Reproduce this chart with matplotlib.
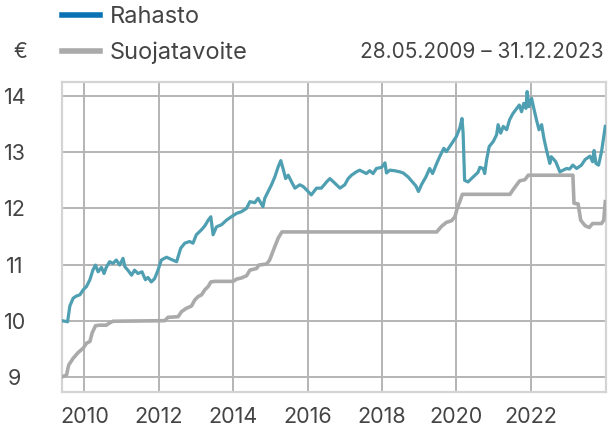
import matplotlib.pyplot as plt
from matplotlib.lines import Line2D

# Rahasto (fund value), decimal years
rahasto_t = [2009.40, 2009.55, 2009.61, 2009.70, 2009.79, 2009.88, 2009.97, 2010.06, 2010.15, 2010.23,
             2010.30, 2010.37, 2010.46, 2010.53, 2010.59, 2010.68, 2010.77, 2010.86, 2010.95, 2011.04,
             2011.09, 2011.17, 2011.27, 2011.35, 2011.44, 2011.55, 2011.64, 2011.71, 2011.80, 2011.89,
             2011.98, 2012.07, 2012.21, 2012.34, 2012.48, 2012.59, 2012.70, 2012.83, 2012.92, 2013.01,
             2013.15, 2013.24, 2013.33, 2013.40, 2013.46, 2013.55, 2013.69, 2013.82, 2013.95, 2014.09,
             2014.22, 2014.36, 2014.45, 2014.58, 2014.67, 2014.80, 2014.85, 2014.94, 2015.03, 2015.12,
             2015.21, 2015.28, 2015.34, 2015.41, 2015.48, 2015.57, 2015.66, 2015.79, 2015.88, 2015.97,
             2016.10, 2016.24, 2016.37, 2016.51, 2016.60, 2016.73, 2016.87, 2017.00, 2017.09, 2017.18,
             2017.31, 2017.40, 2017.49, 2017.58, 2017.67, 2017.76, 2017.85, 2017.99, 2018.08, 2018.12,
             2018.21, 2018.34, 2018.48, 2018.57, 2018.70, 2018.82, 2018.91, 2018.98, 2019.06, 2019.18,
             2019.28, 2019.36, 2019.47, 2019.55, 2019.66, 2019.73, 2019.82, 2019.91, 2020.00, 2020.09,
             2020.15, 2020.18, 2020.22, 2020.31, 2020.45, 2020.58, 2020.63, 2020.72, 2020.76, 2020.81,
             2020.88, 2020.99, 2021.08, 2021.12, 2021.19, 2021.26, 2021.35, 2021.43, 2021.52, 2021.62,
             2021.69, 2021.75, 2021.81, 2021.87, 2021.90, 2021.95, 2022.02, 2022.08, 2022.15, 2022.22,
             2022.29, 2022.35, 2022.42, 2022.51, 2022.55, 2022.67, 2022.78, 2022.87, 2022.96, 2023.04,
             2023.13, 2023.23, 2023.36, 2023.46, 2023.59, 2023.66, 2023.70, 2023.75, 2023.82, 2023.90,
             2024.00]
rahasto_v = [10.00, 9.98, 10.26, 10.40, 10.44, 10.46, 10.55, 10.61, 10.73, 10.90,
             10.99, 10.87, 10.95, 10.84, 10.95, 11.05, 11.02, 11.08, 10.99, 11.11,
             10.96, 10.90, 10.81, 10.90, 10.84, 10.87, 10.73, 10.77, 10.69, 10.75,
             10.90, 11.08, 11.13, 11.09, 11.05, 11.29, 11.38, 11.41, 11.38, 11.53,
             11.62, 11.69, 11.79, 11.85, 11.53, 11.67, 11.71, 11.79, 11.85, 11.91,
             11.94, 12.00, 12.12, 12.10, 12.18, 12.03, 12.18, 12.30, 12.42, 12.56,
             12.74, 12.85, 12.71, 12.53, 12.59, 12.47, 12.36, 12.42, 12.39, 12.33,
             12.24, 12.36, 12.36, 12.47, 12.53, 12.45, 12.36, 12.42, 12.53, 12.59,
             12.65, 12.68, 12.65, 12.62, 12.67, 12.62, 12.71, 12.73, 12.81, 12.63,
             12.68, 12.67, 12.65, 12.63, 12.56, 12.47, 12.40, 12.30, 12.42, 12.56,
             12.71, 12.62, 12.80, 12.92, 13.07, 13.01, 13.10, 13.19, 13.28, 13.43,
             13.60, 13.34, 12.50, 12.47, 12.56, 12.64, 12.73, 12.71, 12.62, 12.86,
             13.10, 13.19, 13.31, 13.49, 13.34, 13.46, 13.40, 13.58, 13.69, 13.78,
             13.84, 13.72, 13.87, 13.78, 14.08, 13.81, 13.96, 13.78, 13.58, 13.40,
             13.49, 13.25, 13.04, 12.80, 12.92, 12.83, 12.65, 12.68, 12.71, 12.70,
             12.77, 12.71, 12.77, 12.87, 12.93, 12.83, 13.03, 12.80, 12.77, 13.01,
             13.46]

# Suojatavoite (protection target)
suoja_t = [2009.40, 2009.52, 2009.58, 2009.70, 2009.83, 2009.97, 2010.06, 2010.15, 2010.21, 2010.30,
           2010.41, 2010.59, 2010.68, 2010.77, 2012.16, 2012.25, 2012.52, 2012.61, 2012.74, 2012.88,
           2012.97, 2013.06, 2013.15, 2013.24, 2013.33, 2013.40, 2013.51, 2014.00, 2014.09, 2014.22,
           2014.36, 2014.45, 2014.63, 2014.69, 2014.90, 2014.98, 2015.05, 2015.12, 2015.21, 2015.31,
           2019.47, 2019.60, 2019.73, 2019.87, 2019.96, 2020.02, 2020.09, 2020.16, 2021.44, 2021.52,
           2021.62, 2021.70, 2021.84, 2021.93, 2023.13, 2023.16, 2023.27, 2023.34, 2023.46, 2023.57,
           2023.66, 2023.90, 2023.96, 2024.00]
suoja_v = [9.00, 9.03, 9.21, 9.33, 9.43, 9.51, 9.60, 9.63, 9.78, 9.91,
           9.92, 9.92, 9.96, 9.99, 10.00, 10.06, 10.07, 10.16, 10.22, 10.26,
           10.37, 10.43, 10.46, 10.55, 10.61, 10.69, 10.70, 10.70, 10.74, 10.76,
           10.80, 10.90, 10.93, 10.99, 11.01, 11.08, 11.20, 11.32, 11.47, 11.58,
           11.58, 11.68, 11.75, 11.78, 11.85, 12.00, 12.12, 12.25, 12.25, 12.33,
           12.42, 12.49, 12.51, 12.59, 12.59, 12.09, 12.08, 11.79, 11.69, 11.66,
           11.73, 11.73, 11.79, 12.12]

years = [2010, 2012, 2014, 2016, 2018, 2020, 2022]
yticks = [9, 10, 11, 12, 13, 14]

TEXT = "#444444"
GRID = "#b4b4b4"
plt.rcParams["font.family"] = ["Inter", "DejaVu Sans"]

fig = plt.figure(figsize=(6.08, 4.32), dpi=100)
ax = fig.add_axes([62 / 608, 1 - 392 / 432, 544 / 608, 310 / 432])

ax.plot(suoja_t, suoja_v, color="#aaaaaa", lw=2.6, solid_joinstyle="round", zorder=3)
ax.plot(rahasto_t, rahasto_v, color="#4f9fb2", lw=2.3, solid_joinstyle="round", zorder=4)

ax.set_xlim(2009.40, 2024.02)
ax.set_ylim(8.73, 14.25)
ax.set_xticks(years)
ax.set_xticklabels([str(y) for y in years])
ax.set_yticks(yticks)
ax.set_yticklabels([str(v) for v in yticks], ha="center")
ax.tick_params(axis="both", length=0, labelsize=15.5, labelcolor=TEXT)
ax.tick_params(axis="y", pad=34)
ax.tick_params(axis="x", pad=11)
ax.grid(True, color=GRID, lw=1.4)
ax.set_axisbelow(True)
for s in ax.spines.values():
    s.set_color("#d4d4d4")
    s.set_linewidth(1.6)

# legend drawn by hand in figure coordinates
legend_items = [("Rahasto", "#0a72b4", 17), ("Suojatavoite", "#aaaaaa", 53)]
for label, color, ypx in legend_items:
    y = 1 - ypx / 432
    fig.add_artist(Line2D([62 / 608, 100 / 608], [y + 2 / 432, y + 2 / 432], color=color, lw=4,
                          transform=fig.transFigure))
    fig.text(110 / 608, y, label, ha="left", va="center", fontsize=17, color=TEXT)

fig.text(20 / 608, 1 - 52 / 432, "€", ha="center", va="center", fontsize=15, color=TEXT)
fig.text(604 / 608, 1 - 52 / 432, "28.05.2009 – 31.12.2023", ha="right", va="center",
         fontsize=15, color=TEXT)

fig.savefig("out.png", dpi=100)
